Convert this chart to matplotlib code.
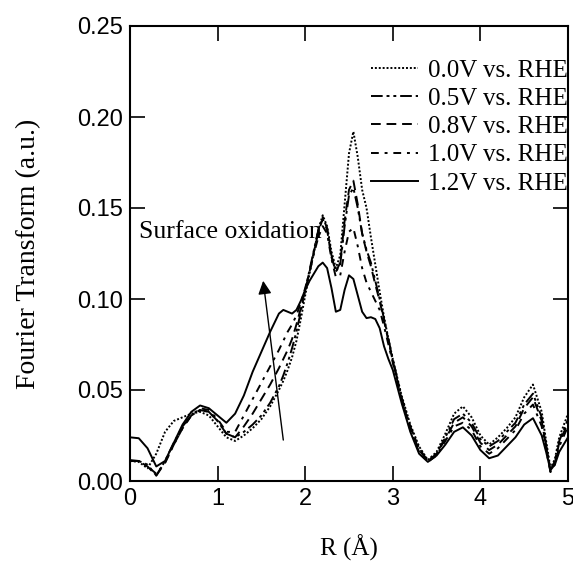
import numpy as np
import matplotlib
matplotlib.use("Agg")
import matplotlib.pyplot as plt

# R grid (Angstrom), shared by all spectra
r = [0.0, 0.1, 0.2, 0.3, 0.4, 0.5, 0.6, 0.7, 0.8, 0.9, 1.0, 1.1, 1.2, 1.3, 1.4, 1.5, 1.6, 1.7,
     1.75, 1.8, 1.85, 1.9, 1.95, 2.0, 2.05, 2.1, 2.15, 2.2, 2.25, 2.3, 2.35, 2.4, 2.45, 2.5,
     2.55, 2.6, 2.65, 2.7, 2.75, 2.8, 2.85, 2.9, 2.95, 3.0,
     3.1, 3.2, 3.3, 3.4, 3.5, 3.6, 3.7, 3.8, 3.9, 4.0, 4.1, 4.2, 4.3, 4.4, 4.5, 4.6, 4.7,
     4.75, 4.8, 4.85, 4.9, 5.0]

ft_00 = [0.011, 0.0105, 0.007, 0.015, 0.027, 0.033, 0.035, 0.037, 0.038, 0.036, 0.030, 0.024,
         0.022, 0.025, 0.029, 0.034, 0.041, 0.050,
         0.055, 0.061, 0.068, 0.077, 0.089, 0.102, 0.114, 0.126, 0.138, 0.146, 0.140, 0.126,
         0.117, 0.124, 0.152, 0.180, 0.192, 0.178, 0.160, 0.150, 0.134, 0.119, 0.104, 0.090,
         0.078, 0.067,
         0.047, 0.031, 0.019, 0.0115, 0.016, 0.026, 0.037, 0.041, 0.035, 0.025, 0.020, 0.024,
         0.029, 0.035, 0.046, 0.053, 0.038,
         0.022, 0.007, 0.012, 0.024, 0.037]

ft_05 = [0.011, 0.011, 0.009, 0.003, 0.011, 0.021, 0.030, 0.036, 0.039, 0.038, 0.033, 0.026,
         0.024, 0.027, 0.031, 0.036, 0.043, 0.052,
         0.058, 0.065, 0.073, 0.082, 0.093, 0.105, 0.116, 0.127, 0.138, 0.145, 0.139, 0.124,
         0.115, 0.119, 0.140, 0.157, 0.161, 0.150, 0.136, 0.127, 0.120, 0.110, 0.100, 0.089,
         0.078, 0.067,
         0.046, 0.030, 0.018, 0.011, 0.015, 0.024, 0.034, 0.037, 0.032, 0.023, 0.019, 0.022,
         0.027, 0.032, 0.042, 0.048, 0.035,
         0.020, 0.006, 0.011, 0.022, 0.034]

ft_08 = [0.0115, 0.011, 0.008, 0.003, 0.010, 0.020, 0.029, 0.036, 0.039, 0.038, 0.033, 0.026,
         0.024, 0.030, 0.037, 0.045, 0.053, 0.062,
         0.067, 0.072, 0.078, 0.086, 0.095, 0.105, 0.115, 0.126, 0.137, 0.144, 0.138, 0.123,
         0.115, 0.120, 0.143, 0.160, 0.165, 0.152, 0.136, 0.126, 0.118, 0.108, 0.099, 0.088,
         0.077, 0.066,
         0.045, 0.029, 0.017, 0.011, 0.015, 0.023, 0.032, 0.035, 0.030, 0.021, 0.017, 0.020,
         0.025, 0.030, 0.040, 0.046, 0.033,
         0.019, 0.005, 0.010, 0.021, 0.032]

ft_10 = [0.011, 0.011, 0.008, 0.004, 0.010, 0.020, 0.029, 0.036, 0.040, 0.039, 0.034, 0.027,
         0.027, 0.036, 0.045, 0.054, 0.063, 0.072,
         0.077, 0.082, 0.086, 0.091, 0.098, 0.106, 0.115, 0.125, 0.134, 0.140, 0.136, 0.122,
         0.112, 0.113, 0.126, 0.137, 0.139, 0.129, 0.117, 0.109, 0.104, 0.099, 0.094, 0.085,
         0.075, 0.065,
         0.044, 0.028, 0.016, 0.0105, 0.014, 0.022, 0.030, 0.032, 0.028, 0.019, 0.015, 0.018,
         0.023, 0.028, 0.037, 0.042, 0.030,
         0.017, 0.005, 0.009, 0.019, 0.030]

ft_12 = [0.024, 0.0235, 0.018, 0.008, 0.011, 0.021, 0.031, 0.038, 0.0415, 0.040, 0.036, 0.032,
         0.037, 0.047, 0.060, 0.071, 0.082, 0.092,
         0.094, 0.093, 0.092, 0.094, 0.099, 0.105, 0.110, 0.114, 0.118, 0.120, 0.117, 0.106,
         0.093, 0.094, 0.105, 0.113, 0.111, 0.102, 0.093, 0.0895, 0.090, 0.089, 0.084, 0.074,
         0.067, 0.061,
         0.043, 0.027, 0.015, 0.0105, 0.014, 0.020, 0.027, 0.0295, 0.025, 0.017, 0.0125, 0.014,
         0.019, 0.024, 0.031, 0.0345, 0.025,
         0.016, 0.006, 0.009, 0.016, 0.024]

labels = ["0.0V vs. RHE", "0.5V vs. RHE", "0.8V vs. RHE", "1.0V vs. RHE", "1.2V vs. RHE"]
series = [ft_00, ft_05, ft_08, ft_10, ft_12]
styles = [(0, (1, 1)), (0, (6, 2, 1.5, 2, 1.5, 2)), (0, (5, 3)), (0, (4, 3, 1.5, 3)), "-"]

serif = "Liberation Serif"
sans = "Liberation Sans"

fig = plt.figure(figsize=(5.73, 5.62), dpi=100)
ax = fig.add_axes([130 / 573, 1 - 481 / 562, 438 / 573, 455 / 562])

for y, lab, ls in zip(series, labels, styles):
    ax.plot(r, y, color="black", linestyle=ls, linewidth=1.4, label=lab)

ax.set_xlim(0, 5)
ax.set_ylim(0, 0.25)
ax.set_xticks([0, 1, 2, 3, 4, 5])
ax.set_yticks([0.0, 0.05, 0.10, 0.15, 0.20, 0.25])
ax.set_yticklabels(["0.00", "0.05", "0.10", "0.15", "0.20", "0.25"])
ax.tick_params(direction="in", length=11, width=1.2, top=True, right=True,
               labelsize=17, pad=5)
for lab in ax.get_xticklabels() + ax.get_yticklabels():
    lab.set_fontfamily(sans)
for sp in ax.spines.values():
    sp.set_linewidth(1.5)

ax.set_xlabel("R (Å)", fontsize=18, family=serif)
ax.xaxis.set_label_coords(0.5, -0.118)
ax.set_ylabel("Fourier Transform (a.u.)", fontsize=20, family=serif)
ax.yaxis.set_label_coords(-0.203, 0.5)

ax.annotate("", xy=(1.52, 0.110), xytext=(1.75, 0.0225),
            arrowprops=dict(arrowstyle="-|>", color="black", lw=1.0,
                            mutation_scale=20, shrinkA=0, shrinkB=0))
ax.text(0.10, 0.137, "Surface oxidation", fontsize=18.5, family=serif,
        ha="left", va="center")

ax.legend(loc="upper right", bbox_to_anchor=(1.0, 0.927), frameon=False,
          prop={"family": serif, "size": 18}, handlelength=1.9,
          handletextpad=0.4, labelspacing=0.23, borderaxespad=0.0, borderpad=0.0)

fig.savefig("out.png", dpi=100)
